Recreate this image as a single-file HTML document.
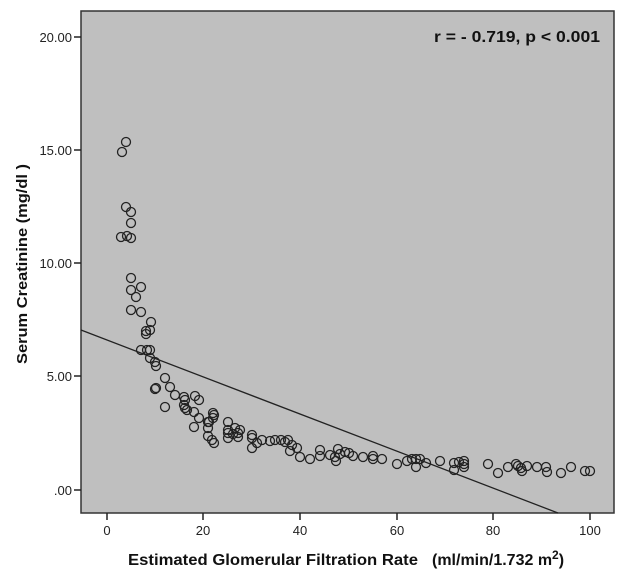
<!DOCTYPE html>
<html><head><meta charset="utf-8"><style>
html,body{margin:0;padding:0;background:#fff;}
svg{display:block;font-family:"Liberation Sans",Arial,sans-serif;}
</style></head><body>
<svg width="623" height="579" viewBox="0 0 623 579" xmlns="http://www.w3.org/2000/svg">
<rect x="0" y="0" width="623" height="579" fill="#fff"/>
<rect x="81" y="11" width="533" height="502" fill="#bfbfbf" stroke="#333" stroke-width="1.5"/>
<g stroke="#222" stroke-width="1.5">
<line x1="74" y1="37" x2="81" y2="37"/><line x1="74" y1="150" x2="81" y2="150"/><line x1="74" y1="263" x2="81" y2="263"/><line x1="74" y1="376" x2="81" y2="376"/><line x1="74" y1="490" x2="81" y2="490"/>
<line x1="107" y1="513" x2="107" y2="520"/><line x1="203" y1="513" x2="203" y2="520"/><line x1="300" y1="513" x2="300" y2="520"/><line x1="397" y1="513" x2="397" y2="520"/><line x1="493" y1="513" x2="493" y2="520"/><line x1="590" y1="513" x2="590" y2="520"/>
</g>
<g font-size="13" fill="#222" text-anchor="end">
<text x="72" y="42">20.00</text><text x="72" y="155">15.00</text><text x="72" y="268">10.00</text><text x="72" y="381">5.00</text><text x="72" y="495">.00</text>
</g>
<g font-size="13" fill="#222" text-anchor="middle">
<text x="107" y="535">0</text><text x="203" y="535">20</text><text x="300" y="535">40</text><text x="397" y="535">60</text><text x="493" y="535">80</text><text x="590" y="535">100</text>
</g>
<text x="128" y="565" font-size="16" font-weight="bold" fill="#111" textLength="290" lengthAdjust="spacingAndGlyphs">Estimated Glomerular Filtration Rate</text>
<text x="432" y="565" font-size="16" font-weight="bold" fill="#111">(ml/min/1.732 m<tspan font-size="12" dy="-6">2</tspan><tspan dy="6">)</tspan></text>
<text transform="translate(27,264) rotate(-90)" font-size="14.5" font-weight="bold" fill="#111" text-anchor="middle" textLength="200" lengthAdjust="spacingAndGlyphs">Serum Creatinine (mg/dl )</text>
<text x="434" y="42" font-size="15.5" font-weight="bold" fill="#111" textLength="166" lengthAdjust="spacingAndGlyphs">r = - 0.719, p &lt; 0.001</text>
<line x1="81" y1="330" x2="558" y2="513" stroke="#222" stroke-width="1.3"/>
<g fill="none" stroke="#222" stroke-width="1.3" id="pts"></g>
</svg>
<script>
var p=[[126,142],[122,152],[126,207],[131,212],[131,223],[121,237],[127,236],[131,238],[131,278],[141,287],[131,290],[136,297],[131,310],[141,312],[151,322],[150,330],[146,331],[146,334],[141,350],[147,350],[150,350],[150,358],[155,362],[156,366],[165,378],[170,387],[156,388],
[155,389],[175,395],[165,407],[184,397],[185,400],[184,405],[185,408],[187,410],[195,396],[199,400],[194,412],[199,418],[194,427],[208,422],[209,422],[208,428],[208,436],[213,413],[214,415],[213,418],[212,440],[214,443],[228,422],[228,430],[228,433],[228,438],[233,434],[238,437],[235,428],[238,433],[240,430],[252,435],[252,438],[252,448],[257,443],[262,440],[270,441],[275,440],[281,440],[285,442],[288,440],[292,445],[290,451],[297,448],[300,457],[310,459],[320,450],[320,456],[330,455],[335,457],[336,461],[338,449],[340,454],[345,452],[349,453],[353,456],[363,457],[373,456],[373,459],
[382,459],[397,464],[407,461],[412,459],[416,459],[416,467],[420,459],[426,463],[440,461],[454,463],[454,470],[459,462],[464,461],[464,467],[464,464],[488,464],[498,473],[508,467],[516,464],[518,466],[521,468],[522,471],[527,466],[537,467],[546,467],[547,472],[561,473],[571,467],[585,471],[590,471]];
var g=document.getElementById('pts'),s='';
p.forEach(function(a){s+='<circle cx="'+a[0]+'" cy="'+a[1]+'" r="4.5"/>';});
g.innerHTML=s;
</script>
</body></html>
